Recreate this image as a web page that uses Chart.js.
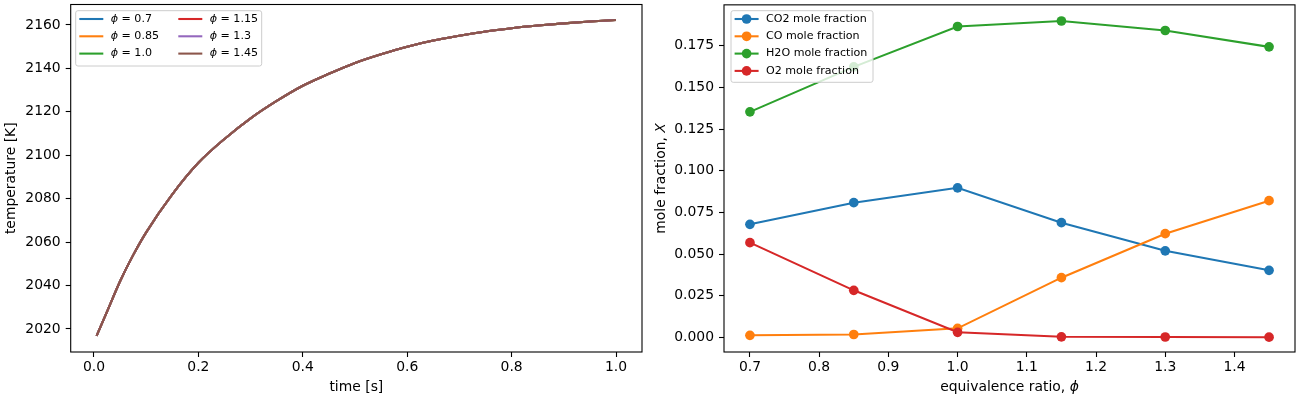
<!DOCTYPE html>
<html><head><meta charset="utf-8">
<script src="https://cdn.jsdelivr.net/npm/chart.js@4.4.1/dist/chart.umd.min.js"></script>
<style>
html,body{margin:0;padding:0;background:#fff;}
#wrap{position:relative;width:1300px;height:400px;}
.pane{position:absolute;top:0;width:650px;height:400px;}
</style></head><body>
<div id="wrap">
<div class="pane" style="left:0"><canvas id="c1" width="650" height="400"></canvas></div>
<div class="pane" style="left:650px"><canvas id="c2" width="650" height="400"></canvas></div>
</div>
<script>
// ---- data ----
const timeS = [0.005, 0.025, 0.05, 0.075, 0.1, 0.15, 0.2, 0.25, 0.3, 0.35, 0.4, 0.45, 0.5, 0.55, 0.6, 0.65, 0.7, 0.75, 0.8, 0.85, 0.9, 0.95, 1.0];
const temperatureK = [2016.8, 2028, 2042, 2054, 2064.5, 2082, 2096.5, 2107.5, 2117, 2125, 2132, 2137.5, 2142.5, 2146.5, 2150, 2152.8, 2155, 2157, 2158.5, 2159.7, 2160.7, 2161.6, 2162.3];
const phiLabels = ['0.7', '0.85', '1.0', '1.15', '1.3', '1.45'];
const phiValues = [0.7, 0.85, 1.0, 1.15, 1.3, 1.45];
const xCO2 = [0.0678, 0.0808, 0.0897, 0.0688, 0.0519, 0.0402];
const xCO  = [0.0012, 0.0017, 0.0054, 0.0358, 0.0622, 0.0820];
const xH2O = [0.1353, 0.1623, 0.1865, 0.1898, 0.1841, 0.1743];
const xO2  = [0.0568, 0.0282, 0.0030, 0.0003, 0.0002, 0.0001];
const speciesNames = ['CO2', 'CO', 'H2O', 'O2'];
const timeTicks = [0.0, 0.2, 0.4, 0.6, 0.8, 1.0];
const tempTicks = [2020, 2040, 2060, 2080, 2100, 2120, 2140, 2160];
const phiTicks = [0.7, 0.8, 0.9, 1.0, 1.1, 1.2, 1.3, 1.4];
const moleTicks = [0.0, 0.025, 0.05, 0.075, 0.1, 0.125, 0.15, 0.175];

const COLORS = ['#1f77b4', '#ff7f0e', '#2ca02c', '#d62728', '#9467bd', '#8c564b'];
const FONT = '"DejaVu Sans", "Liberation Sans", sans-serif';
const FS = 13.9, LFS = 11.1, MR = 4.85;

function drawRich(ctx, parts, x, y, size, align) {
  const widths = parts.map(p => { ctx.font = (p.it ? 'italic ' : '') + size + 'px ' + FONT; return ctx.measureText(p.t).width; });
  const total = widths.reduce((a, b) => a + b, 0);
  let cx = align === 'center' ? x - total / 2 : x;
  ctx.textBaseline = 'middle'; ctx.textAlign = 'left'; ctx.fillStyle = '#000';
  parts.forEach((p, i) => { ctx.font = (p.it ? 'italic ' : '') + size + 'px ' + FONT; ctx.fillText(p.t, cx, y); cx += widths[i]; });
}

function roundRect(ctx, x, y, w, h, r) {
  ctx.beginPath();
  ctx.moveTo(x + r, y); ctx.lineTo(x + w - r, y); ctx.arcTo(x + w, y, x + w, y + r, r);
  ctx.lineTo(x + w, y + h - r); ctx.arcTo(x + w, y + h, x + w - r, y + h, r);
  ctx.lineTo(x + r, y + h); ctx.arcTo(x, y + h, x, y + h - r, r);
  ctx.lineTo(x, y + r); ctx.arcTo(x, y, x + r, y, r); ctx.closePath();
}

function makeDecor(opts) {
  return {
    id: 'decor',
    afterDatasetsDraw(chart) {
      const ctx = chart.ctx, a = chart.chartArea;
      ctx.save();
      ctx.strokeStyle = '#000'; ctx.lineWidth = 1.1;
      ctx.strokeRect(a.left, a.top, a.right - a.left, a.bottom - a.top);
      // axis titles
      drawRich(ctx, opts.xTitle, (a.left + a.right) / 2, 387, FS, 'center');
      ctx.save(); ctx.translate(11.7, (a.top + a.bottom) / 2); ctx.rotate(-Math.PI / 2);
      drawRich(ctx, opts.yTitle, 0, 0, FS, 'center'); ctx.restore();
      // legend
      const L = opts.legend;
      ctx.fillStyle = 'rgba(255,255,255,0.8)'; ctx.strokeStyle = '#cccccc'; ctx.lineWidth = 1;
      roundRect(ctx, L.x, L.y, L.w, L.h, 2.2); ctx.fill(); ctx.stroke();
      chart.data.datasets.forEach((ds, i) => {
        const col = Math.floor(i / L.rows), row = i % L.rows;
        const x0 = L.x + 3.6 + col * L.colW, y0 = L.y + 8.3 + row * 17.3;
        ctx.strokeStyle = ds.borderColor; ctx.lineWidth = 2.08;
        ctx.beginPath(); ctx.moveTo(x0, y0); ctx.lineTo(x0 + 24, y0); ctx.stroke();
        if (L.marker) { ctx.fillStyle = ds.borderColor; ctx.beginPath(); ctx.arc(x0 + 12, y0, MR, 0, Math.PI * 2); ctx.fill(); }
        drawRich(ctx, L.labels[i], x0 + 31.4, y0, LFS, 'left');
      });
      ctx.restore();
    }
  };
}

function axisX(min, max, ticks, fmt) {
  return {
    type: 'linear', min: min, max: max,
    afterBuildTicks: s => { s.ticks = ticks.map(v => ({ value: v })); },
    afterFit: s => { s.height = 48; s.paddingLeft = 0; s.paddingRight = 0; },
    ticks: { callback: v => fmt(v), color: '#000', font: { family: FONT, size: FS }, padding: 2, maxRotation: 0, autoSkip: false },
    grid: { display: true, drawOnChartArea: false, drawTicks: true, tickLength: 5, tickColor: '#000', tickWidth: 1.1 },
    border: { display: false }
  };
}
function axisY(min, max, ticks, fmt, w) {
  return {
    type: 'linear', min: min, max: max,
    afterBuildTicks: s => { s.ticks = ticks.map(v => ({ value: v })); },
    afterFit: s => { s.width = w; s.paddingTop = 0; s.paddingBottom = 0; },
    ticks: { callback: v => fmt(v), color: '#000', font: { family: FONT, size: FS }, padding: 5, autoSkip: false },
    grid: { display: true, drawOnChartArea: false, drawTicks: true, tickLength: 5, tickColor: '#000', tickWidth: 1.1 },
    border: { display: false }
  };
}

// ---- left chart ----
const leftSets = phiLabels.map((p, i) => ({
  label: 'phi = ' + p,
  data: timeS.map((t, k) => ({ x: t, y: temperatureK[k] })),
  borderColor: COLORS[i], backgroundColor: COLORS[i], borderWidth: 2.08,
  pointRadius: 0, cubicInterpolationMode: 'monotone', order: phiLabels.length - i
}));
new Chart(document.getElementById('c1'), {
  type: 'line',
  data: { datasets: leftSets },
  options: {
    responsive: false, animation: false, devicePixelRatio: 1, events: [],
    layout: { padding: { left: 0, right: 8, top: 4.5, bottom: 0 } },
    plugins: { legend: { display: false }, title: { display: false }, tooltip: { enabled: false } },
    scales: {
      x: axisX(-0.0446, 1.0498, timeTicks, v => v.toFixed(1)),
      y: axisY(2009.4, 2169.4, tempTicks, v => String(v), 70.7)
    }
  },
  plugins: [makeDecor({
    xTitle: [{ t: 'time [s]' }],
    yTitle: [{ t: 'temperature [K]' }],
    legend: { x: 75.7, y: 10.7, w: 186, h: 55.3, rows: 3, colW: 99, marker: false,
      labels: phiLabels.map(p => [{ t: 'ϕ', it: true }, { t: ' = ' + p }]) }
  })]
});

// ---- right chart ----
const speciesData = [xCO2, xCO, xH2O, xO2];
const rightSets = speciesNames.map((n, i) => ({
  label: n + ' mole fraction',
  data: phiValues.map((p, k) => ({ x: p, y: speciesData[i][k] })),
  borderColor: COLORS[i], backgroundColor: COLORS[i], pointBackgroundColor: COLORS[i],
  borderWidth: 2.08, pointRadius: MR, pointBorderWidth: 0, tension: 0, order: speciesNames.length - i
}));
new Chart(document.getElementById('c2'), {
  type: 'line',
  data: { datasets: rightSets },
  options: {
    responsive: false, animation: false, devicePixelRatio: 1, events: [],
    layout: { padding: { left: 0, right: 5, top: 4.5, bottom: 0 } },
    plugins: { legend: { display: false }, title: { display: false }, tooltip: { enabled: false } },
    scales: {
      x: axisX(0.6625, 1.4875, phiTicks, v => v.toFixed(1)),
      y: axisY(-0.0088, 0.1995, moleTicks, v => v.toFixed(3), 74)
    }
  },
  plugins: [makeDecor({
    xTitle: [{ t: 'equivalence ratio, ' }, { t: 'ϕ', it: true }],
    yTitle: [{ t: 'mole fraction, ' }, { t: 'X', it: true }],
    legend: { x: 81, y: 10.7, w: 142, h: 71.6, rows: 4, colW: 0, marker: true,
      labels: speciesNames.map(n => [{ t: n + ' mole fraction' }]) }
  })]
});
</script>
</body></html>
